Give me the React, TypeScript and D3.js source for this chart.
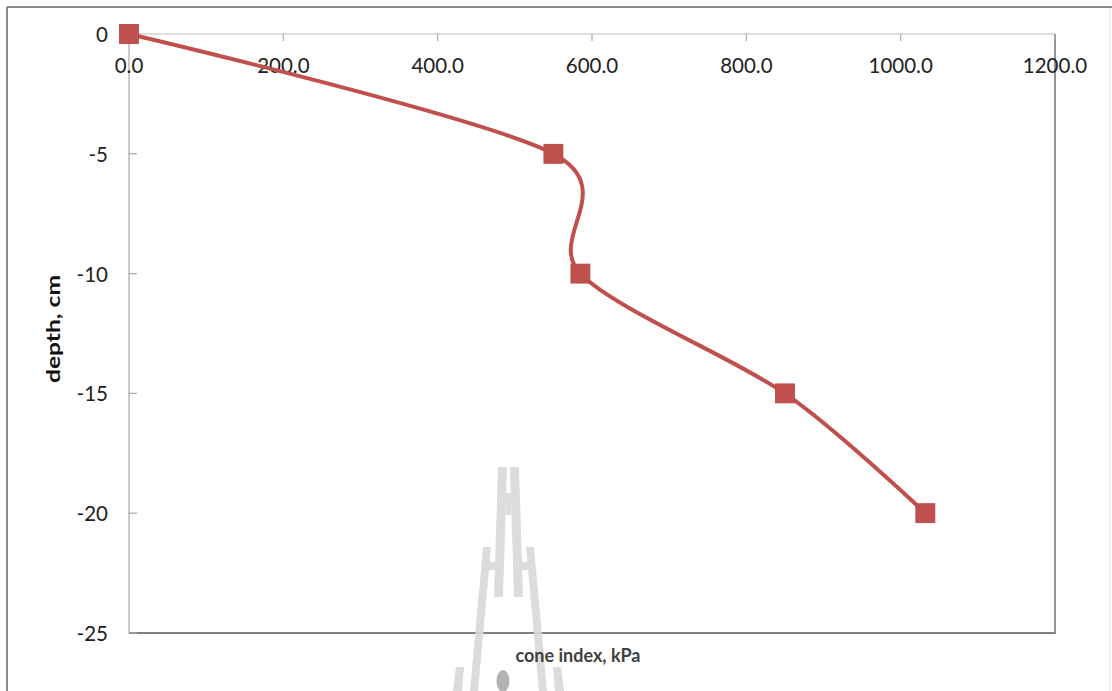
import React from "react";
import * as d3 from "d3";

const depths = [0, -5, -10, -15, -20];
const coneIndex = [0, 550, 585, 850, 1032];
const xTicks = [0, 200, 400, 600, 800, 1000, 1200];
const yTicks = [0, -5, -10, -15, -20, -25];
const xTitle = "cone index, kPa";
const yTitle = "depth, cm";

const W = 1112;
const H = 691;

export default function App() {
  const x = d3.scaleLinear().domain([0, 1200]).range([129, 1055]);
  const y = d3.scaleLinear().domain([0, -25]).range([34, 633]);
  const pts = coneIndex.map((v, i) => [v, depths[i]] as [number, number]);
  const line = d3
    .line<[number, number]>()
    .x((d) => x(d[0]))
    .y((d) => y(d[1]))
    .curve(d3.curveCardinal.tension(0.1));
  const font = "Lato, 'Open Sans', sans-serif";
  const ms = 19;
  const wm = "#d9d9d9";
  return (
    <svg
      width={W}
      height={H}
      style={{ position: "absolute", left: 0, top: 0, background: "#fff" }}
    >
      <rect x={0} y={0} width={W} height={H} fill="#fff" />
      {/* outer frame */}
      <line x1={7} y1={7} x2={W} y2={7} stroke="#8a8a8a" strokeWidth={2} />
      <line x1={7} y1={7} x2={7} y2={H} stroke="#8a8a8a" strokeWidth={2} />
      <line x1={1110} y1={8} x2={1110} y2={H} stroke="#e4e4e4" strokeWidth={1} />

      {/* plot frame */}
      <line x1={x(0)} y1={y(0)} x2={x(1200)} y2={y(0)} stroke="#bdbdbd" strokeWidth={1.2} />
      <line x1={x(0)} y1={y(0)} x2={x(0)} y2={y(-25)} stroke="#a8a8a8" strokeWidth={1.2} />
      <line x1={x(1200)} y1={y(0)} x2={x(1200)} y2={y(-25) + 1} stroke="#7a7a7a" strokeWidth={1.6} />
      <line x1={x(0)} y1={y(-25)} x2={x(1200)} y2={y(-25)} stroke="#808080" strokeWidth={1.8} />

      {/* watermark */}
      <g fill={wm} opacity={0.9}>
        <polygon points="498,467 507,467 503,597 494,597" />
        <polygon points="510,467 519,467 523,597 514,597" />
        <rect x={506} y={493} width={5} height={22} />
        <polygon points="483,547 491,547 478,691 470,691" />
        <rect x={489} y={562} width={8} height={8} />
        <polygon points="526,547 534,547 547,691 539,691" />
        <rect x={520} y={562} width={8} height={8} />
        <polygon points="456,667 464,667 462,691 453,691" />
        <polygon points="553,667 561,667 564,691 555,691" />
      </g>
      <ellipse cx={503} cy={681} rx={6.5} ry={11} fill="#b3b3b3" />

      {/* ticks */}
      {xTicks.map((t) => (
        <g key={"xt" + t}>
          <line x1={x(t)} y1={y(0)} x2={x(t)} y2={y(0) + 7} stroke="#a8a8a8" strokeWidth={1.2} />
          <text
            x={x(t)}
            y={65}
            textAnchor="middle"
            dominantBaseline="central"
            fontFamily={font}
            fontSize={20.5}
            fill="#222"
          >
            {t.toFixed(1)}
          </text>
        </g>
      ))}
      {yTicks.map((t) => (
        <g key={"yt" + t}>
          <line x1={x(0)} y1={y(t)} x2={x(0) + 8} y2={y(t)} stroke="#a8a8a8" strokeWidth={1.2} />
          <text
            x={108}
            y={y(t)}
            textAnchor="end"
            dominantBaseline="central"
            fontFamily={font}
            fontSize={20.5}
            fill="#222"
          >
            {t}
          </text>
        </g>
      ))}

      {/* series */}
      <path d={line(pts) || ""} fill="none" stroke="#c0504d" strokeWidth={4} />
      {pts.map((p, i) => (
        <rect
          key={"m" + i}
          x={x(p[0]) - ms / 2}
          y={y(p[1]) - ms / 2}
          width={ms}
          height={ms}
          fill="#c0504d"
          stroke="#b54542"
          strokeWidth={0.8}
        />
      ))}

      {/* titles */}
      <text
        transform={`translate(52,329) rotate(-90)`}
        textAnchor="middle"
        dominantBaseline="central"
        fontFamily={font}
        fontWeight="bold"
        fontSize={19}
        textLength={108}
        lengthAdjust="spacingAndGlyphs"
        fill="#111"
      >
        {yTitle}
      </text>
      <text
        x={578}
        y={655}
        textAnchor="middle"
        dominantBaseline="central"
        fontFamily={font}
        fontWeight="bold"
        fontSize={18}
        fill="#404040"
      >
        {xTitle}
      </text>
    </svg>
  );
}
